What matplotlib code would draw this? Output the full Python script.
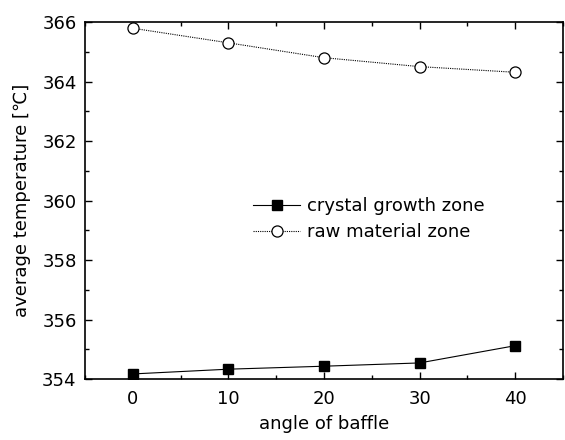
import matplotlib
matplotlib.use('Agg')
import matplotlib.pyplot as plt
from matplotlib.ticker import MultipleLocator

plt.rcParams['font.family'] = ['DejaVu Sans', 'Noto Sans CJK JP']
plt.rcParams['font.size'] = 13

# data
angle = [0, 10, 20, 30, 40]
crystal = [354.17, 354.33, 354.43, 354.54, 355.12]
raw = [365.79, 365.30, 364.80, 364.50, 364.31]

fig = plt.figure(figsize=(5.65, 4.4), dpi=100)
ax = fig.add_axes([85 / 565, 1 - 379 / 440, (563 - 85) / 565, (379 - 22) / 440])

ax.plot(angle, crystal, color='black', lw=0.8, marker='s', ms=7,
        label='crystal growth zone')
ax.plot(angle, raw, color='black', lw=0.8, ls=(0, (1, 1)), marker='o', ms=8,
        mfc='white', mec='black', mew=0.9, label='raw material zone')

ax.set_xlim(-5, 45)
ax.set_ylim(354, 366)
ax.xaxis.set_major_locator(MultipleLocator(10))
ax.xaxis.set_minor_locator(MultipleLocator(5))
ax.yaxis.set_major_locator(MultipleLocator(2))
ax.yaxis.set_minor_locator(MultipleLocator(1))
ax.tick_params(which='both', direction='in', top=True, right=True, width=1)
ax.tick_params(which='major', length=5)
ax.tick_params(axis='x', which='major', pad=8)
ax.tick_params(axis='y', which='major', pad=6)
ax.tick_params(which='minor', length=3)
for s in ax.spines.values():
    s.set_linewidth(1.2)

ax.set_xlabel('angle of baffle', labelpad=5)
ax.set_ylabel('average temperature [℃]', labelpad=8)

ax.legend(loc='center left', bbox_to_anchor=(0.337, 0.447), frameon=False,
          handlelength=2.6, handletextpad=0.4, borderaxespad=0, labelspacing=0.45)

fig.savefig('out.png', dpi=100)
